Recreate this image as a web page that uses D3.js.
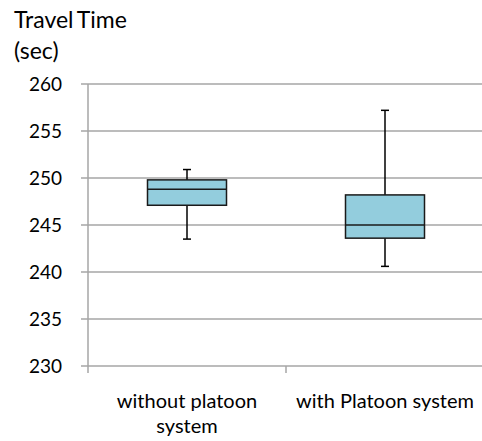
<!DOCTYPE html>
<html><head><meta charset="utf-8">
<script src="https://cdn.jsdelivr.net/npm/d3@7"></script>
<style>body{margin:0;background:#fff}svg{display:block}text{font-family:Lato,"Open Sans",sans-serif;fill:#000}</style>
</head><body>
<script>
const categories = ["without platoon system", "with Platoon system"];
const categoryLines = [["without platoon", "system"], ["with Platoon system"]];
const whiskerLow = [243.5, 240.6];
const q1 = [247.1, 243.6];
const median = [248.8, 245.0];
const q3 = [249.8, 248.2];
const whiskerHigh = [250.9, 257.2];
const yTicks = [230, 235, 240, 245, 250, 255, 260];
const titleLines = ["Travel Time", "(sec)"];

(function () {
const W = 482, H = 441;
const svg = d3.select("body").append("svg").attr("width", W).attr("height", H);
const pl = 88, pr = 484, pt = 84, pb = 366;

const y = d3.scaleLinear().domain([230, 260]).range([pb, pt]);
const x = d3.scaleBand().domain(categories).range([pl, pr]);

svg.append("g").selectAll("line").data(yTicks).join("line")
  .attr("x1", pl - 7).attr("x2", pr)
  .attr("y1", d => y(d)).attr("y2", d => y(d))
  .attr("stroke", "#a6a6a6").attr("stroke-width", 1.5);

svg.append("line").attr("x1", pl).attr("x2", pl).attr("y1", pt).attr("y2", pb + 7)
  .attr("stroke", "#a6a6a6").attr("stroke-width", 1.5);
svg.append("g").selectAll("line").data(categories.slice(1)).join("line")
  .attr("x1", d => x(d)).attr("x2", d => x(d)).attr("y1", pb).attr("y2", pb + 7)
  .attr("stroke", "#a6a6a6").attr("stroke-width", 1.5);

svg.append("g").selectAll("text").data(yTicks).join("text")
  .attr("x", 62).attr("y", d => y(d)).attr("dy", "0.36em")
  .attr("text-anchor", "end").style("font-size", "19px").text(d => d);

svg.append("g").selectAll("text").data(titleLines).join("text")
  .attr("x", 14).attr("y", (d, i) => 28 + i * 31)
  .style("font-size", "23px").style("word-spacing", "-2px").text(d => d);

categories.forEach((c, i) => {
  svg.append("g").selectAll("text").data(categoryLines[i]).join("text")
    .attr("x", x(c) + x.bandwidth() / 2).attr("y", (d, j) => 408 + j * 25)
    .attr("text-anchor", "middle").style("font-size", "20px").text(d => d);
});

const boxW = 79, capW = 8;
const g = svg.append("g");
categories.forEach((c, i) => {
  const cx = x(c) + x.bandwidth() / 2;
  g.append("line").attr("x1", cx).attr("x2", cx).attr("y1", y(whiskerHigh[i])).attr("y2", y(whiskerLow[i]))
    .attr("stroke", "#000").attr("stroke-width", 1.5);
  [whiskerHigh[i], whiskerLow[i]].forEach(v => {
    g.append("line").attr("x1", cx - capW / 2).attr("x2", cx + capW / 2).attr("y1", y(v)).attr("y2", y(v))
      .attr("stroke", "#000").attr("stroke-width", 1.5);
  });
  g.append("rect").attr("x", cx - boxW / 2).attr("width", boxW)
    .attr("y", y(q3[i])).attr("height", y(q1[i]) - y(q3[i]))
    .attr("fill", "#93cddd").attr("stroke", "#1a1a1a").attr("stroke-width", 1.5);
  g.append("line").attr("x1", cx - boxW / 2).attr("x2", cx + boxW / 2).attr("y1", y(median[i])).attr("y2", y(median[i]))
    .attr("stroke", "#1a1a1a").attr("stroke-width", 1.5);
});
})();
</script>
</body></html>
